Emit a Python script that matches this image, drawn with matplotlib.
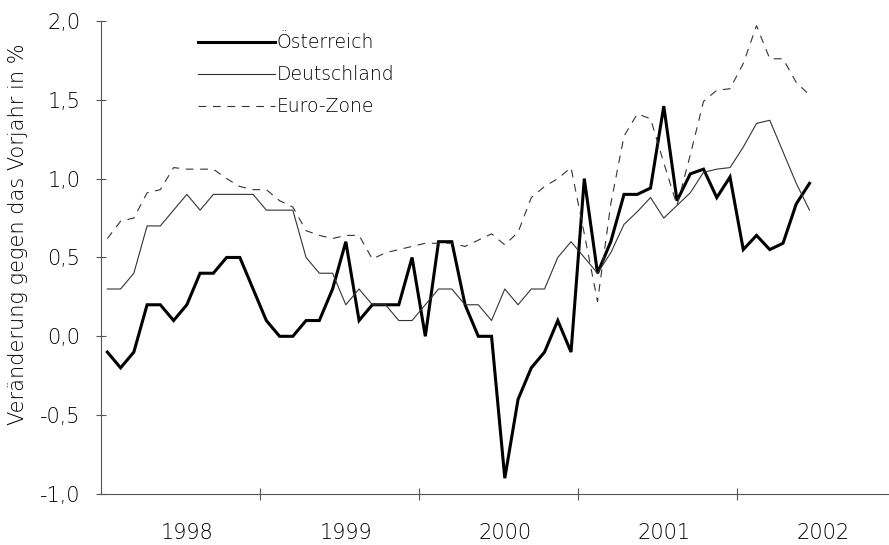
import numpy as np
import matplotlib
matplotlib.use('Agg')
import matplotlib.pyplot as plt
from matplotlib.ticker import FixedLocator, FuncFormatter

# monatliche Werte Jan 1998 - Jun 2002
years = ['1998', '1999', '2000', '2001', '2002']
oesterreich = [-0.1, -0.2, -0.1, 0.2, 0.2, 0.1, 0.2, 0.4, 0.4, 0.5, 0.5, 0.3,
               0.1, 0.0, 0.0, 0.1, 0.1, 0.3, 0.6, 0.1, 0.2, 0.2, 0.2, 0.5,
               0.0, 0.6, 0.6, 0.2, 0.0, 0.0, -0.9, -0.4, -0.2, -0.1, 0.1, -0.1,
               1.0, 0.4, 0.6, 0.9, 0.9, 0.94, 1.46, 0.86, 1.03, 1.06, 0.88, 1.01,
               0.55, 0.64, 0.55, 0.59, 0.84, 0.97]
deutschland = [0.3, 0.3, 0.4, 0.7, 0.7, 0.8, 0.9, 0.8, 0.9, 0.9, 0.9, 0.9,
               0.8, 0.8, 0.8, 0.5, 0.4, 0.4, 0.2, 0.3, 0.2, 0.2, 0.1, 0.1,
               0.2, 0.3, 0.3, 0.2, 0.2, 0.1, 0.3, 0.2, 0.3, 0.3, 0.5, 0.6,
               0.5, 0.4, 0.53, 0.71, 0.79, 0.88, 0.75, 0.83, 0.91, 1.04, 1.06, 1.07,
               1.2, 1.35, 1.37, 1.17, 0.97, 0.8]
euro_zone = [0.62, 0.73, 0.75, 0.91, 0.93, 1.07, 1.06, 1.06, 1.06, 1.0, 0.95, 0.93,
             0.93, 0.86, 0.82, 0.67, 0.64, 0.62, 0.64, 0.64, 0.49, 0.53, 0.55, 0.57,
             0.59, 0.59, 0.59, 0.57, 0.61, 0.65, 0.58, 0.66, 0.88, 0.95, 1.0, 1.07,
             0.65, 0.22, 0.84, 1.27, 1.41, 1.38, 1.1, 0.83, 1.15, 1.49, 1.56, 1.57,
             1.73, 1.97, 1.76, 1.76, 1.61, 1.53]

plt.rcParams['font.family'] = ['DejaVu Sans']
plt.rcParams['font.weight'] = 'light'
plt.rcParams['axes.labelweight'] = 'light'

months = np.arange(len(oesterreich))

fig = plt.figure(figsize=(8.89, 5.45), dpi=100)
ax = fig.add_axes([0.1133, 0.0936, 0.8867, 0.868])

ax.plot(months, oesterreich, color='black', lw=2.2, label='Österreich',
        solid_joinstyle='miter')
ax.plot(months, deutschland, color='#333333', lw=0.8, label='Deutschland')
ax.plot(months, euro_zone, color='#333333', lw=0.8, dashes=(7, 6),
        label='Euro-Zone')

ax.set_xlim(-0.5, 59)
ax.set_ylim(-1.0, 2.0)

for side in ['top', 'right']:
    ax.spines[side].set_visible(False)
for side in ['left', 'bottom']:
    ax.spines[side].set_color('#555555')
    ax.spines[side].set_linewidth(0.8)

ax.set_yticks(np.arange(-1.0, 2.01, 0.5))
ax.yaxis.set_major_formatter(FuncFormatter(lambda v, p: f'{v:.1f}'.replace('.', ',')))
ax.tick_params(axis='y', direction='inout', length=7, width=0.8,
               color='#555555', labelsize=15, pad=11)

# Jahresgrenzen als Striche, Jahreszahlen in der Mitte
ax.xaxis.set_major_locator(FixedLocator([11.5 + 12 * k for k in range(4)]))
ax.xaxis.set_minor_locator(FixedLocator([6 + 12 * k for k in range(len(years))]))
ax.xaxis.set_major_formatter(FuncFormatter(lambda v, p: ''))
ax.xaxis.set_minor_formatter(FuncFormatter(lambda v, p: years[int(round((v - 6) / 12))]))
ax.tick_params(axis='x', which='major', direction='inout', length=8, width=0.8,
               color='#555555')
ax.tick_params(axis='x', which='minor', length=0, labelsize=15, pad=21)

ax.set_ylabel('Veränderung gegen das Vorjahr in %', fontsize=15)
ax.yaxis.set_label_coords(-0.092, 0.55)

ax.legend(loc='upper left', bbox_to_anchor=(0.123, 0.974), frameon=False,
          fontsize=13.5, handlelength=4.1, handletextpad=0.1,
          labelspacing=0.7, borderpad=0, borderaxespad=0)

fig.savefig('out.png', dpi=100)
